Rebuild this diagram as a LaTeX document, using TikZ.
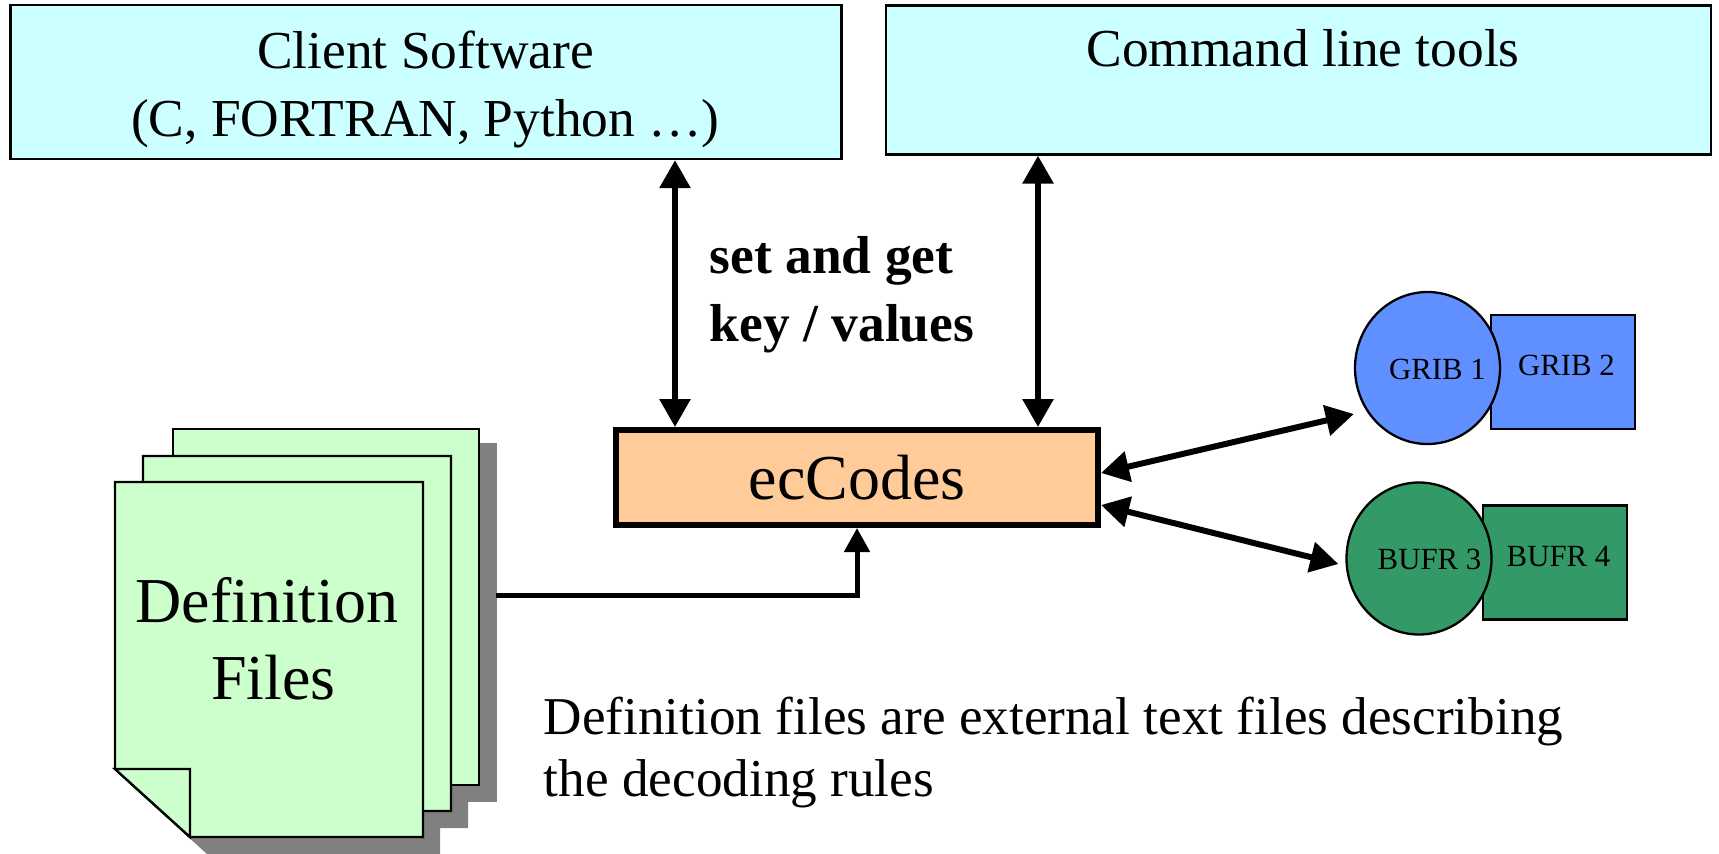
\documentclass[tikz,border=0pt]{standalone}
\usepackage{fontspec}
\setmainfont{Liberation Serif}
\usetikzlibrary{arrows.meta, shapes.geometric}

\definecolor{toolcyan}{HTML}{CCFFFF}
\definecolor{pagegreen}{HTML}{CCFFCC}
\definecolor{coreorange}{HTML}{FFCC99}
\definecolor{gribblue}{HTML}{6090FF}
\definecolor{bufrgreen}{HTML}{339966}
\definecolor{shadowgray}{HTML}{808080}

\begin{document}
\begin{tikzpicture}[
            x = 0.5pt, y = -0.5pt, % one unit is one pixel of the image
            > = {Triangle[length=14pt,width=15pt]}, % arrow head style
            line width = 1.15pt % line style
        ]

        \tikzstyle{toolbox}=[
            draw = black,
            fill = toolcyan,
            inner sep = 0pt
        ]
        \tikzstyle{tooltxt}=[
            align = center,
            inner sep = 0pt,
            font = \fontsize{26.7}{34}\selectfont
        ]
        \tikzstyle{fmtsquare}=[
            draw = black,
            inner sep = 0pt,
            minimum width = 72pt,
            minimum height = 57pt
        ]
        \tikzstyle{fmtround}=[
            draw = black,
            ellipse,
            inner sep = 0pt,
            minimum width = 72.5pt,
            minimum height = 76pt
        ]
        \tikzstyle{fmtlabel}=[
            anchor = base,
            inner sep = 0pt,
            font = \fontsize{15.4}{18}\selectfont
        ]
        \tikzstyle{link}=[
            <->,
            line width = 3pt
        ]

        \useasboundingbox (0,0) rectangle (1719,853);

        % shadows of the three pages
        \fill[shadowgray] (190,443) rectangle (497,802);
        \fill[shadowgray] (160,473) -- (468,473) -- (468,828) -- (235,828) -- (160,760) -- cycle;
        \fill[shadowgray] (132,786) -- (207,854) -- (440,854) -- (440,499) -- (300,499) -- cycle;

        \node[draw = black, fill = pagegreen, inner sep = 0pt, minimum width = 153pt, minimum height = 178pt] (backpage) at (326,607) {};
        \draw[fill = pagegreen] (143,456) -- (451,456) -- (451,811) -- (218,811) -- (143,743) -- cycle;
        \draw[fill = pagegreen] (115,482) -- (423,482) -- (423,837) -- (190,837) -- (115,769) -- cycle;
        \draw[fill = pagegreen] (115,769) -- (190,769) -- (190,837) -- cycle;
        \node[align = center, inner sep = 0pt, font = \fontsize{32}{38.5}\selectfont] (defs) at (267,639) {Definition\\\hspace*{6.6pt}Files};

        \node[toolbox, minimum width = 415.5pt, minimum height = 77pt] (client) at (426,82) {};
        \node[tooltxt] (clienttxt) at (425.5,89) {Client Software\\(C, FORTRAN, Python \ldots)};
        \node[toolbox, minimum width = 412.5pt, minimum height = 74.5pt] (cmdline) at (1298.5,80) {};
        \node[tooltxt] (cmdlinetxt) at (1303,48) {Command line tools};

        \node[draw = black, fill = coreorange, line width = 2.8pt, inner sep = 0pt,
              minimum width = 241.2pt, minimum height = 47.7pt,
              font = \fontsize{32}{38}\selectfont] (ecCodes) at (857,477.5) {ecCodes};

        \node[fmtsquare, fill = gribblue] (gribtwo) at (1563,372) {};
        \node[fmtround, fill = gribblue] (gribone) at (1427.5,368) {};
        \node[fmtsquare, fill = bufrgreen] (bufrfour) at (1555,562.5) {};
        \node[fmtround, fill = bufrgreen] (bufrthree) at (1419,558.5) {};

        \node[fmtlabel] (gribonetxt) at (1437.5,379) {GRIB 1};
        \node[fmtlabel] (gribtwotxt) at (1566.5,375) {GRIB 2};
        \node[fmtlabel] (bufrthreetxt) at (1429.5,569) {BUFR 3};
        \node[fmtlabel] (bufrfourtxt) at (1558.5,566) {BUFR 4};

        \node[align = left, inner sep = 0pt, font = \bfseries\fontsize{26.7}{34}\selectfont] (setget) at (842,294.5) {set and get\\key / values};
        \node[align = left, inner sep = 0pt, font = \fontsize{26.6}{31}\selectfont] (note) at (1053.5,752.5) {Definition files are external text files describing\\the decoding rules};

        \draw[link] ([xshift=124.5pt]client.south) -- ([xshift=-91pt]ecCodes.north);
        \draw[link] ([xshift=-130.25pt]cmdline.south) -- ([xshift=90.5pt]ecCodes.north);
        \draw[link] ([yshift=2.25pt]ecCodes.east) -- ([yshift=-23pt]gribone.west);
        \draw[link] ([yshift=-13.75pt]ecCodes.east) -- ([xshift=-3.5pt,yshift=-2.75pt]bufrthree.west);
        \draw[-{Triangle[length=12pt,width=12.5pt]}, line width = 2.5pt] ([xshift=8pt,yshift=6pt]backpage.east) -| (ecCodes.south);

  \end{tikzpicture}
\end{document}
